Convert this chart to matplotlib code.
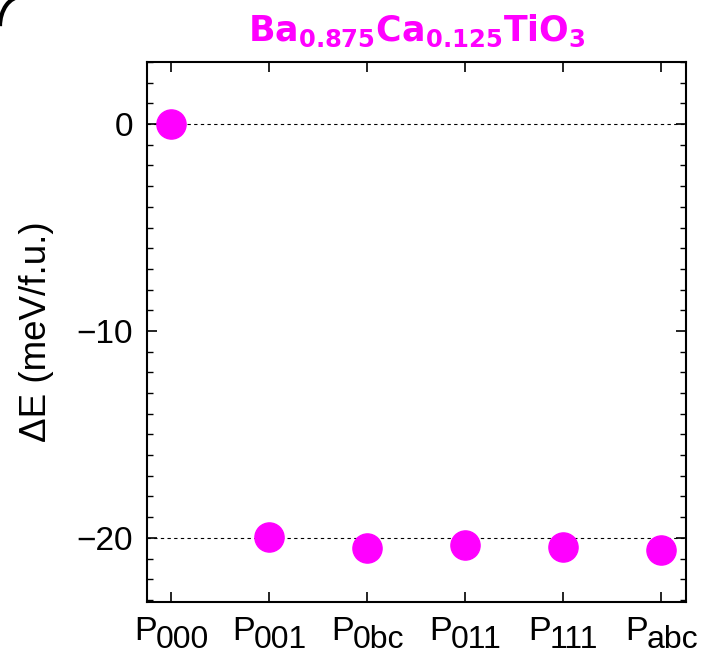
import matplotlib
matplotlib.use("Agg")
import matplotlib.pyplot as plt
from matplotlib.patches import Arc
from matplotlib.ticker import MultipleLocator

plt.rcParams['font.family'] = ['Liberation Sans', 'DejaVu Sans']
plt.rcParams['mathtext.fontset'] = 'dejavusans'

# polarization states and relative energies (meV/f.u.)
states = ['000', '001', '0bc', '011', '111', 'abc']
energy = [0.0, -19.95, -20.5, -20.35, -20.45, -20.6]
ref_lines = [0, -20]

fig = plt.figure(figsize=(7.04, 6.54), dpi=100)
ax = fig.add_axes([0.2088, 0.0795, 0.7656, 0.8257])

for y in ref_lines:
    ax.axhline(y, color='black', lw=0.8, ls=(0, (3, 3)), zorder=1)

x = list(range(len(states)))
ax.plot(x, energy, 'o', color='#ff00ff', markersize=21, zorder=3)

ax.set_xlim(-0.25, 5.25)
ax.set_ylim(-23.1, 3.0)
ax.set_xticks(x)
ax.set_xticklabels([''] * len(states))
ax.yaxis.set_minor_locator(MultipleLocator(1))
ax.set_yticks([0, -10, -20])
ax.set_yticklabels(['0', '\u221210', '\u221220'], fontsize=24)

ax.tick_params(which='both', direction='in', top=True, right=True)
ax.tick_params(which='major', length=7, width=1.2)
ax.tick_params(which='minor', length=4, width=1.0)
ax.tick_params(axis='y', which='major', pad=10)
for sp in ax.spines.values():
    sp.set_linewidth(1.5)

ax.set_ylabel('\u0394E (meV/f.u.)', fontsize=26.5, labelpad=16)
ax.set_title(r'$\mathbf{Ba_{0.875}Ca_{0.125}TiO_3}$', color='#ff00ff',
             fontsize=25, pad=15)

# x labels: "P" with a large subscript, centred under each tick
renderer = fig.canvas.get_renderer()
for i, s in enumerate(states):
    tp = ax.annotate('P', xy=(i, 0), xycoords=('data', 'axes fraction'),
                     xytext=(0, -27.5), textcoords='offset points',
                     fontsize=24.5, ha='left', va='baseline')
    ts = ax.annotate(s, xy=(i, 0), xycoords=('data', 'axes fraction'),
                     xytext=(0, -33), textcoords='offset points',
                     fontsize=23, ha='left', va='baseline')
    wp = tp.get_window_extent(renderer).width * 72 / fig.dpi
    ws = ts.get_window_extent(renderer).width * 72 / fig.dpi
    gap = -1.0
    left = -(wp + gap + ws) / 2
    tp.xyann = (left, -27.5)
    ts.xyann = (left + wp + gap, -33)

# dark rounded corner at the top left
corner = Arc((0.03, 0.96), 0.06, 0.09, theta1=90, theta2=180,
             transform=fig.transFigure, color='black', lw=3)
fig.add_artist(corner)

fig.savefig('out.png', dpi=100)
